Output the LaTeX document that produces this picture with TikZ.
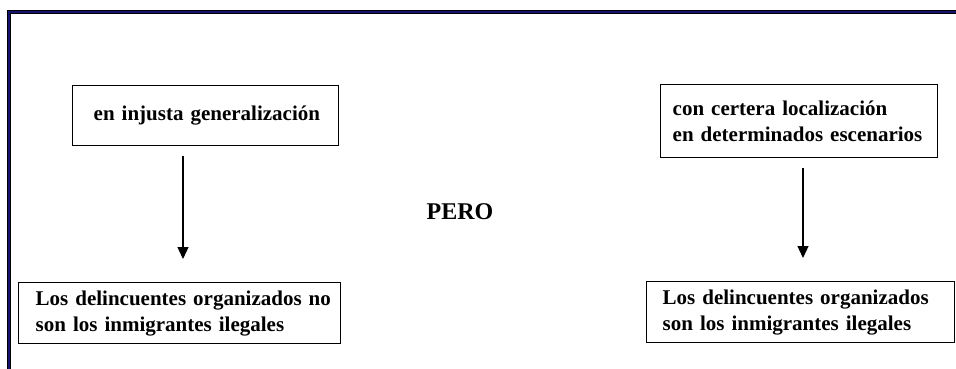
\documentclass[tikz,border=0pt]{standalone}
\usepackage{fontspec}
\setmainfont{Liberation Serif}
\usetikzlibrary{arrows.meta}
\definecolor{framenavy}{RGB}{20,20,110}
\hbadness=10000 \hfuzz=200pt
\tikzset{
  txtbox/.style={draw=black, line width=1.4pt, rectangle, anchor=north west,
    font=\fontsize{21}{26}\selectfont\bfseries, align=left, inner ysep=0pt},
  arr/.style={line width=1.3pt, -{Triangle[width=11pt,length=12pt]}},
  frameline/.style={draw=framenavy, line width=2.6pt}
}
\begin{document}
\begin{tikzpicture}[x=1pt,y=-1pt]
\useasboundingbox (0,0) rectangle (956,369);
% frame
\coordinate (fr1) at (956,12);
\coordinate (fr2) at (9,12);
\coordinate (fr3) at (9,369);
\draw[black, line width=3.4pt] (fr1) -- (fr2) -- (fr3);
\draw[frameline] (fr1) -- (fr2) -- (fr3);
% boxes
\node[txtbox, minimum width=266pt, minimum height=60pt, text width=266pt-2*21pt, inner xsep=21pt] (b1) at (72,85) {\mbox{en injusta generalización}};
\node[txtbox, minimum width=277pt, minimum height=73pt, text width=277pt-2*12pt, inner xsep=12pt] (b2) at (660,84) {\mbox{con certera localización}\\\mbox{en determinados escenarios}};
\node[txtbox, minimum width=322pt, minimum height=61pt, text width=322pt-2*17pt, inner xsep=17pt] (b3) at (18,282) {\mbox{Los delincuentes organizados no}\\\mbox{son los inmigrantes ilegales}};
\node[txtbox, minimum width=308pt, minimum height=61pt, text width=308pt-2*16pt, inner xsep=16pt] (b4) at (646,281) {\mbox{Los delincuentes organizados}\\\mbox{son los inmigrantes ilegales}};
\node[font=\fontsize{24}{29}\selectfont\bfseries] (pero) at (460,212) {PERO};
% arrows
\coordinate (la) at (183,0);
\coordinate (ra) at (803,0);
\draw[arr, shorten <=10pt, shorten >=23pt] (b1.south -| la) -- (b3.north -| la);
\draw[arr, shorten <=10pt, shorten >=23pt] (b2.south -| ra) -- (b4.north -| ra);
\end{tikzpicture}
\end{document}
